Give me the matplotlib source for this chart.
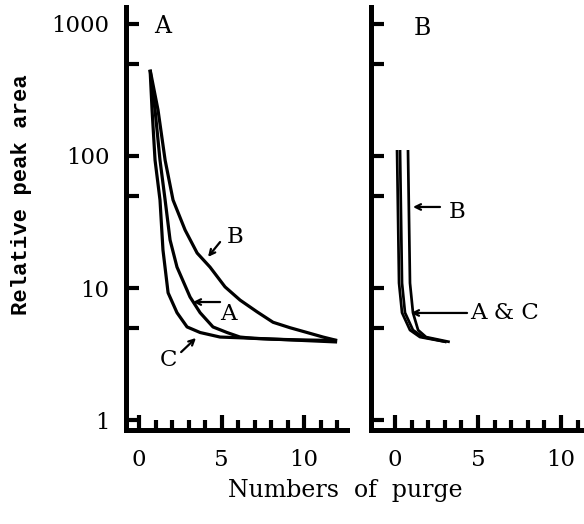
import matplotlib
matplotlib.use("Agg")
import matplotlib.pyplot as plt
from matplotlib.ticker import FixedLocator, NullFormatter

# ---- data ----
# Panel A
a_B_x = [0.67, 1.15, 1.58, 2.06, 2.79, 3.52, 4.30, 5.21, 6.12, 7.15, 8.12, 9.15, 10.18, 11.15, 12.0]
a_B_y = [450, 223, 93, 46.4, 27.5, 18.4, 14.4, 10.2, 8.1, 6.6, 5.5, 5.0, 4.6, 4.25, 4.0]
a_A_x = [0.67, 0.97, 1.27, 1.58, 1.88, 2.30, 3.09, 3.70, 4.48, 5.33, 6.12, 7.0, 8.0, 9.5, 12.0]
a_A_y = [450, 223, 93, 46.4, 23.1, 14.4, 8.55, 6.5, 5.07, 4.6, 4.25, 4.15, 4.1, 4.05, 4.0]
a_C_x = [0.67, 0.79, 0.97, 1.27, 1.45, 1.76, 2.30, 2.91, 3.70, 4.91, 7.15, 12.0]
a_C_y = [450, 223, 93, 46.4, 19.4, 9.2, 6.5, 5.07, 4.6, 4.25, 4.15, 3.9]
# Panel B
b_C_x = [0.12, 0.24, 0.42, 0.90, 1.50, 3.10]
b_C_y = [111, 10.9, 6.5, 4.8, 4.25, 3.9]
b_A_x = [0.30, 0.42, 0.60, 1.08, 1.69, 3.10]
b_A_y = [111, 10.9, 6.5, 4.8, 4.25, 3.9]
b_B_x = [0.78, 0.90, 1.08, 1.39, 1.87, 3.30]
b_B_y = [111, 10.9, 6.5, 4.8, 4.25, 3.9]

y_major = [1, 10, 100, 1000]
y_minor = [5, 50, 500]
y_labels = ["1", "10", "100", "1000"]
x_major = [0, 5, 10]
x_minor = list(range(0, 13))

SERIF = "DejaVu Serif"
plt.rcParams['font.family'] = [SERIF]

fig = plt.figure(figsize=(5.84, 5.24), dpi=100)
W, H = 584, 524
ax1 = fig.add_axes([126 / W, (H - 430) / H, (347 - 126) / W, (430 - 7) / H])
ax2 = fig.add_axes([371 / W, (H - 430) / H, (584 - 371) / W, (430 - 7) / H])

lw = 2.3
for ax in (ax1, ax2):
    ax.set_yscale("log")
    ax.set_ylim(0.84, 1345)
    for s in ("top", "right"):
        ax.spines[s].set_visible(False)
    for s in ("left", "bottom"):
        ax.spines[s].set_linewidth(3.6)
    ax.yaxis.set_major_locator(FixedLocator(y_major))
    ax.yaxis.set_minor_locator(FixedLocator(y_minor))
    ax.yaxis.set_minor_formatter(NullFormatter())
    ax.xaxis.set_major_locator(FixedLocator(x_major))
    ax.xaxis.set_minor_locator(FixedLocator(x_minor))
    ax.tick_params(axis="y", which="both", direction="in", length=9, width=3, pad=12, labelsize=16.5)
    ax.tick_params(axis="x", which="major", direction="in", length=11, width=3, pad=14, labelsize=16.5)
    ax.tick_params(axis="x", which="minor", direction="in", length=7, width=3)

ax1.set_xlim(-0.79, 12.6)
ax2.set_xlim(-1.45, 11.39)
ax1.set_yticklabels(y_labels)
ax2.set_yticklabels([])

for xs, ys in ((a_B_x, a_B_y), (a_A_x, a_A_y), (a_C_x, a_C_y)):
    ax1.plot(xs, ys, color="black", lw=lw, solid_capstyle="butt")
for xs, ys in ((b_C_x, b_C_y), (b_A_x, b_A_y), (b_B_x, b_B_y)):
    ax2.plot(xs, ys, color="black", lw=lw * 0.85, solid_capstyle="butt")

ap = dict(arrowstyle="->", color="black", lw=1.6, shrinkA=0, shrinkB=0)
fs = 16.5
# panel A annotations
ax1.text(1.45, 950, "A", fontsize=17, ha="center", va="center")
ax1.annotate("", xy=(4.18, 17.2), xytext=(4.91, 22.3), arrowprops=ap)
ax1.text(5.82, 24.3, "B", fontsize=fs, ha="center", va="center")
ax1.annotate("", xy=(3.27, 7.83), xytext=(4.91, 7.83), arrowprops=ap)
ax1.text(5.39, 6.3, "A", fontsize=fs, ha="center", va="center")
ax1.annotate("", xy=(3.45, 4.18), xytext=(2.55, 3.27), arrowprops=ap)
ax1.text(1.76, 2.85, "C", fontsize=fs, ha="center", va="center")
# panel B annotations
ax2.text(1.63, 930, "B", fontsize=17, ha="center", va="center")
ax2.annotate("", xy=(1.08, 41.1), xytext=(2.71, 41.1), arrowprops=ap)
ax2.text(3.73, 37.7, "B", fontsize=fs, ha="center", va="center")
ax2.annotate("", xy=(0.96, 6.47), xytext=(4.34, 6.47), arrowprops=ap)
ax2.text(4.52, 6.47, "A & C", fontsize=fs, ha="left", va="center")

fig.text(22 / W, 1 - 195 / H, "Relative peak area", rotation=90, fontsize=16,
         fontweight="bold", family=["Liberation Mono", "DejaVu Sans Mono"],
         ha="center", va="center")
fig.text(345 / W, 1 - 490 / H, "Numbers  of  purge", fontsize=17, ha="center", va="center")

fig.savefig("out.png", dpi=100)
